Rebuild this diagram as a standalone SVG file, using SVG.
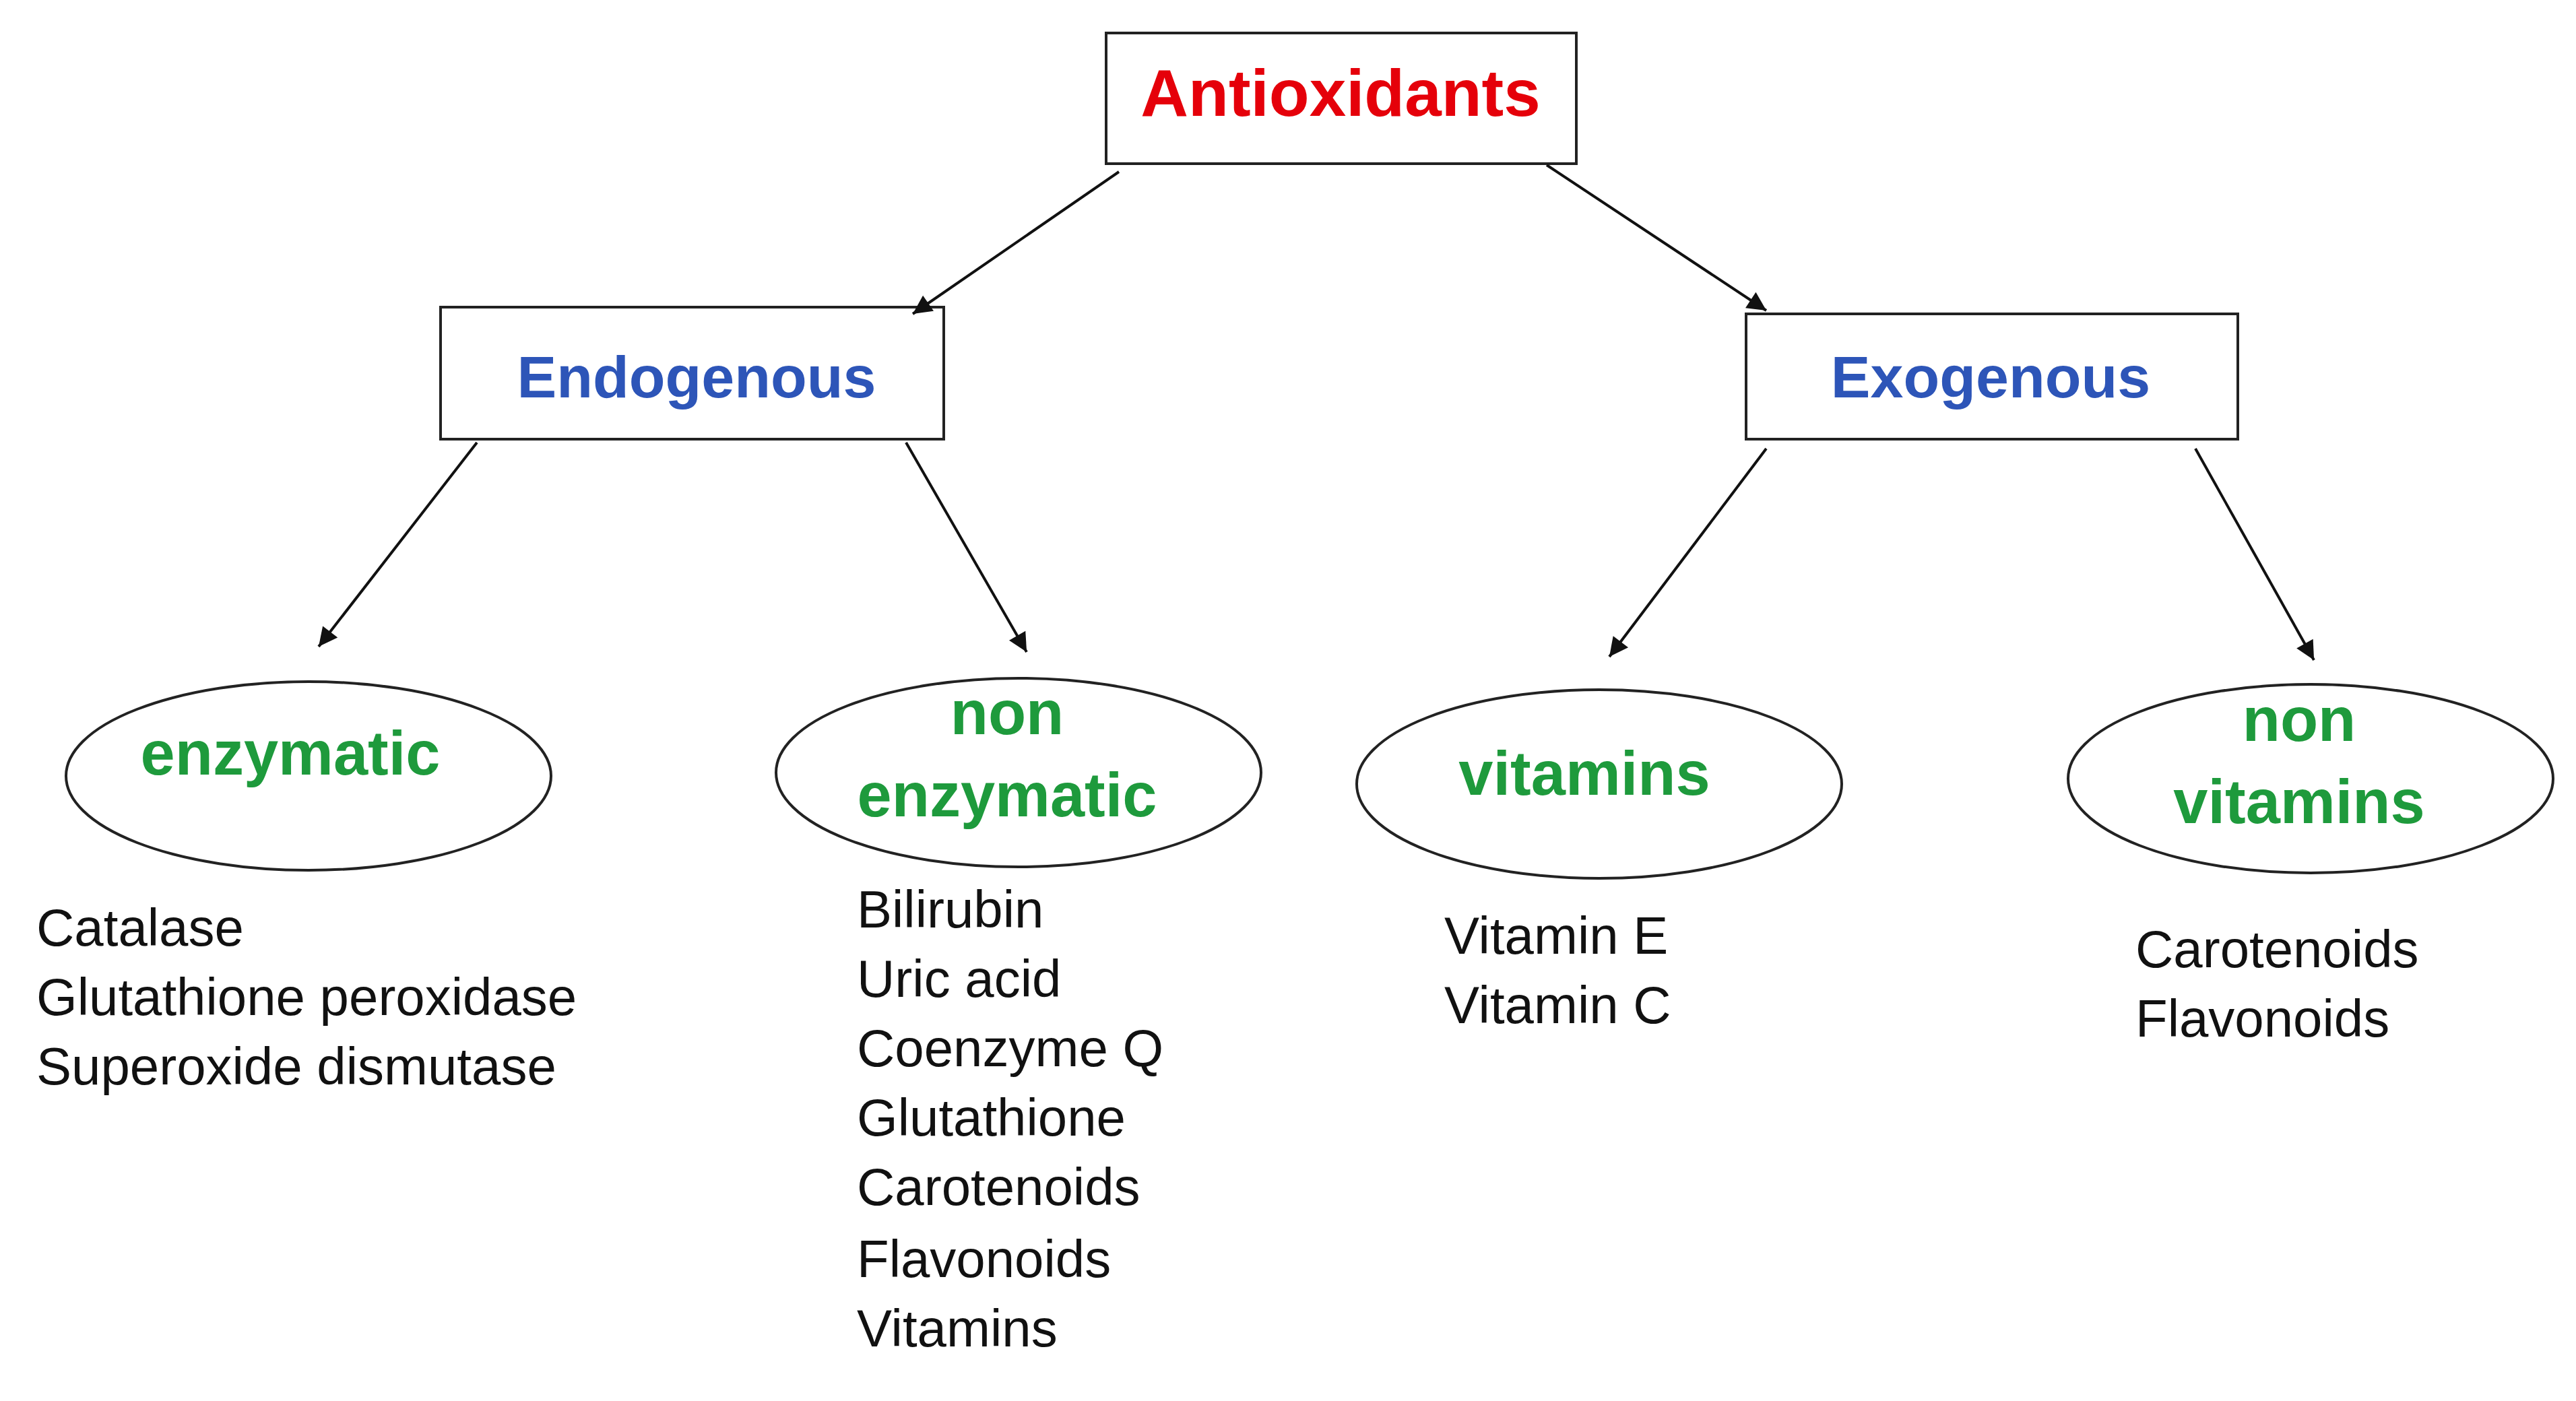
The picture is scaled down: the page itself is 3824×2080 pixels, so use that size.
<svg xmlns="http://www.w3.org/2000/svg" width="3824" height="2080" viewBox="0 0 3824 2080">
<style>
.box{fill:#fff;stroke:#222;stroke-width:4}
.ell{fill:#fff;stroke:#222;stroke-width:4}
.h{font-family:"Liberation Sans",Arial,sans-serif;font-weight:bold;text-anchor:middle}
.g{fill:#1e9a3c;font-size:92px}
.b{fill:#2d55b8;font-size:88px}
.t{font-family:"Liberation Sans",Arial,sans-serif;font-size:78px;fill:#111}
.c{stroke:#111;stroke-width:4;fill:none;marker-end:url(#a)}
</style>
<defs><marker id="a" viewBox="0 0 10 10" refX="9" refY="5" markerWidth="8" markerHeight="8" markerUnits="userSpaceOnUse" orient="auto" style="overflow:visible"><path d="M0,0L10,5L0,10z" fill="#111" transform="scale(3.5) translate(-7.4,-3.6)"/></marker></defs>
<g id="antioxidants"><rect class="box" x="1642" y="49" width="698" height="194"/><text class="h" x="1990" y="172" font-size="98" fill="#e5000a">Antioxidants</text></g>
<g id="endogenous"><rect class="box" x="654" y="456" width="747" height="196"/><text class="h b" x="1034" y="590">Endogenous</text></g>
<g id="exogenous"><rect class="box" x="2592" y="466" width="730" height="186"/><text class="h b" x="2955" y="590">Exogenous</text></g>
<g id="enzymatic"><ellipse class="ell" cx="458" cy="1152" rx="360" ry="140"/><text class="h g" x="431" y="1150">enzymatic</text></g>
<g id="nonenzymatic"><ellipse class="ell" cx="1512" cy="1147" rx="360" ry="140"/><text class="h g" x="1495" y="1090">non</text><text class="h g" x="1495" y="1212">enzymatic</text></g>
<g id="vitamins"><ellipse class="ell" cx="2374" cy="1164" rx="360" ry="140"/><text class="h g" x="2352" y="1180">vitamins</text></g>
<g id="nonvitamins"><ellipse class="ell" cx="3430" cy="1156" rx="360" ry="140"/><text class="h g" x="3413" y="1100">non</text><text class="h g" x="3413" y="1222">vitamins</text></g>
<g id="list1" class="t"><text x="54" y="1404">Catalase</text><text x="54" y="1507">Glutathione  peroxidase</text><text x="54" y="1610">Superoxide dismutase</text></g>
<g id="list2" class="t"><text x="1272" y="1377">Bilirubin</text><text x="1272" y="1480">Uric acid</text><text x="1272" y="1583">Coenzyme  Q</text><text x="1272" y="1686">Glutathione</text><text x="1272" y="1789">Carotenoids</text><text x="1272" y="1896">Flavonoids</text><text x="1272" y="1999">Vitamins</text></g>
<g id="list3" class="t"><text x="2144" y="1416">Vitamin E</text><text x="2144" y="1519">Vitamin C</text></g>
<g id="list4" class="t"><text x="3170" y="1436">Carotenoids</text><text x="3170" y="1539">Flavonoids</text></g>
<g id="connectors">
<line class="c" x1="1661" y1="255" x2="1355" y2="466"/>
<line class="c" x1="2296" y1="245" x2="2622" y2="461"/>
<line class="c" x1="708" y1="657" x2="473" y2="960"/>
<line class="c" x1="1345" y1="657" x2="1524" y2="968"/>
<line class="c" x1="2622" y1="666" x2="2389" y2="975"/>
<line class="c" x1="3259" y1="666" x2="3435" y2="980"/>
</g>
</svg>
